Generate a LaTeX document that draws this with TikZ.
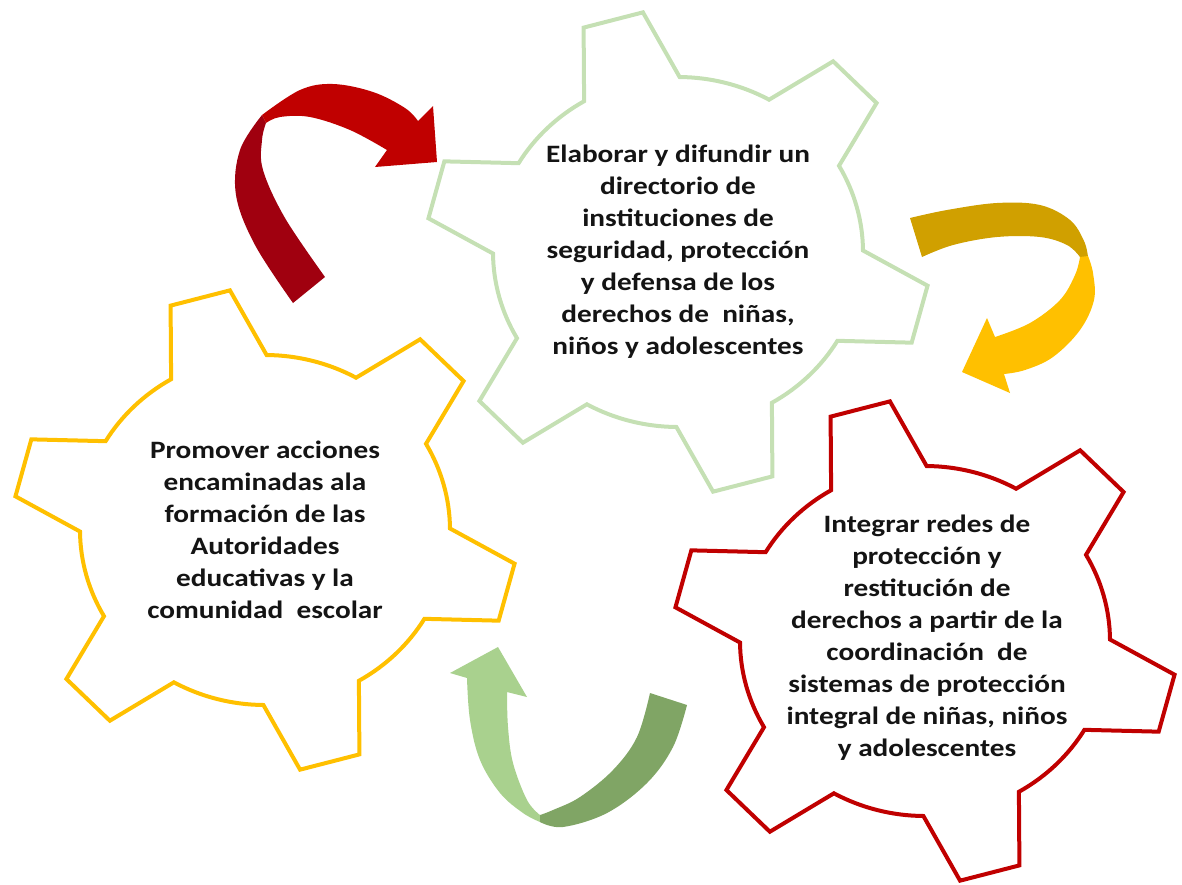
\documentclass[tikz,border=0pt]{standalone}
\usepackage{fontspec}
\setmainfont{Carlito}
\newfontfamily\widefont[FakeStretch=1.17]{Carlito}
\definecolor{gearG}{HTML}{C5E0B4}
\definecolor{gearY}{HTML}{FFC000}
\definecolor{gearR}{HTML}{C00000}
\definecolor{arRb}{HTML}{C00000}
\definecolor{arRd}{HTML}{A0000F}
\definecolor{arYl}{HTML}{FFC000}
\definecolor{arYd}{HTML}{D0A000}
\definecolor{arGl}{HTML}{A9D18E}
\definecolor{arGd}{HTML}{80A565}
\begin{document}
\begin{tikzpicture}[x=1pt,y=1pt,
  gearline/.style={line width=4pt, line join=miter, miter limit=4},
  gtext/.style={align=center, font=\widefont\bfseries\fontsize{25}{32}\selectfont, text=black!92},
  sm/.style={smooth, tension=0.6}]
\useasboundingbox (0,0) rectangle (1182,-884);
\newcommand\mygear[2]{%
  \begin{scope}[shift={#1}]
  \draw[gearline, draw=#2] (120.5:185pt and 175pt)
   \foreach \a in {105,45,-15,-75,-135,-195}{
     -- ({\a+15.5}:185pt and 175pt) -- ({\a+7}:252pt and 242pt)
     -- ({\a-7}:252pt and 242pt) -- ({\a-15.5}:185pt and 175pt)
     arc[start angle={\a-15.5}, end angle={\a-44.5}, x radius=185pt, y radius=175pt]
   } -- cycle;
  \end{scope}}
% gears
\mygear{(678,-252)}{gearG}
\mygear{(265,-530)}{gearY}
\mygear{(925,-641)}{gearR}
% texts
\node[gtext] (tG) at (678,-252) {Elaborar y difundir un\\directorio de\\instituciones de\\seguridad, protección\\y defensa de los\\derechos de~ niñas,\\niños y adolescentes};
\node[gtext] (tY) at (265,-530) {Promover acciones\\encaminadas ala\\formación de las\\Autoridades\\educativas y la\\comunidad~ escolar};
\node[gtext] (tR) at (927,-638) {Integrar redes de\\protección y\\restitución de\\derechos a partir de la\\coordinación~ de\\sistemas de protección\\integral de niñas, niños\\y adolescentes};
% red arrow
\fill[arRd] plot[sm] coordinates {(293,-303) (255,-245) (236,-195) (240,-150) (262,-115)}
  -- (266,-123) -- plot[sm] coordinates {(266,-123) (262,-140) (263,-170) (285,-218) (325,-277)} -- cycle;
\fill[arRb] plot[sm] coordinates {(262,-115) (300,-90) (333,-84) (373,-92) (405,-108) (418,-121)}
  -- (433,-106) -- (437,-162) -- (375,-167) -- (387,-150)
  -- plot[sm] coordinates {(387,-150) (350,-130) (310,-117) (280,-117) (266,-123)} -- cycle;
% yellow arrow
\fill[arYd] plot[sm] coordinates {(910,-218) (947,-210) (997,-203) (1040,-205) (1070,-220) (1084,-241) (1088,-257)}
  -- (1080,-257) -- plot[sm] coordinates {(1080,-257) (1067,-245) (1040,-237) (997,-237) (953,-245) (922,-257)} -- cycle;
\fill[arYl] plot[sm] coordinates {(1088,-256) (1093,-273) (1094,-300) (1080,-330) (1053,-357) (1025,-370) (1004,-374)}
  -- (1010,-393) -- (962,-372) -- (987,-318) -- (995,-337)
  -- plot[sm] coordinates {(995,-337) (1030,-323) (1060,-300) (1075,-275) (1080,-257)} -- cycle;
% green arrow
\fill[arGl] plot[sm] coordinates {(467,-678) (470,-720) (480,-760) (500,-793) (523,-813) (540,-822)}
  -- (540,-815) -- plot[sm] coordinates {(540,-815) (527,-800) (513,-763) (508,-727) (507,-692)}
  -- (527,-697) -- (498,-647) -- (450,-673) -- cycle;
\fill[arGd] plot[sm] coordinates {(540,-815) (553,-810) (580,-797) (613,-770) (637,-737) (650,-693)}
  -- (687,-705) -- plot[sm] coordinates {(687,-705) (673,-747) (647,-783) (607,-813) (563,-827) (540,-822)} -- cycle;
\end{tikzpicture}
\end{document}
